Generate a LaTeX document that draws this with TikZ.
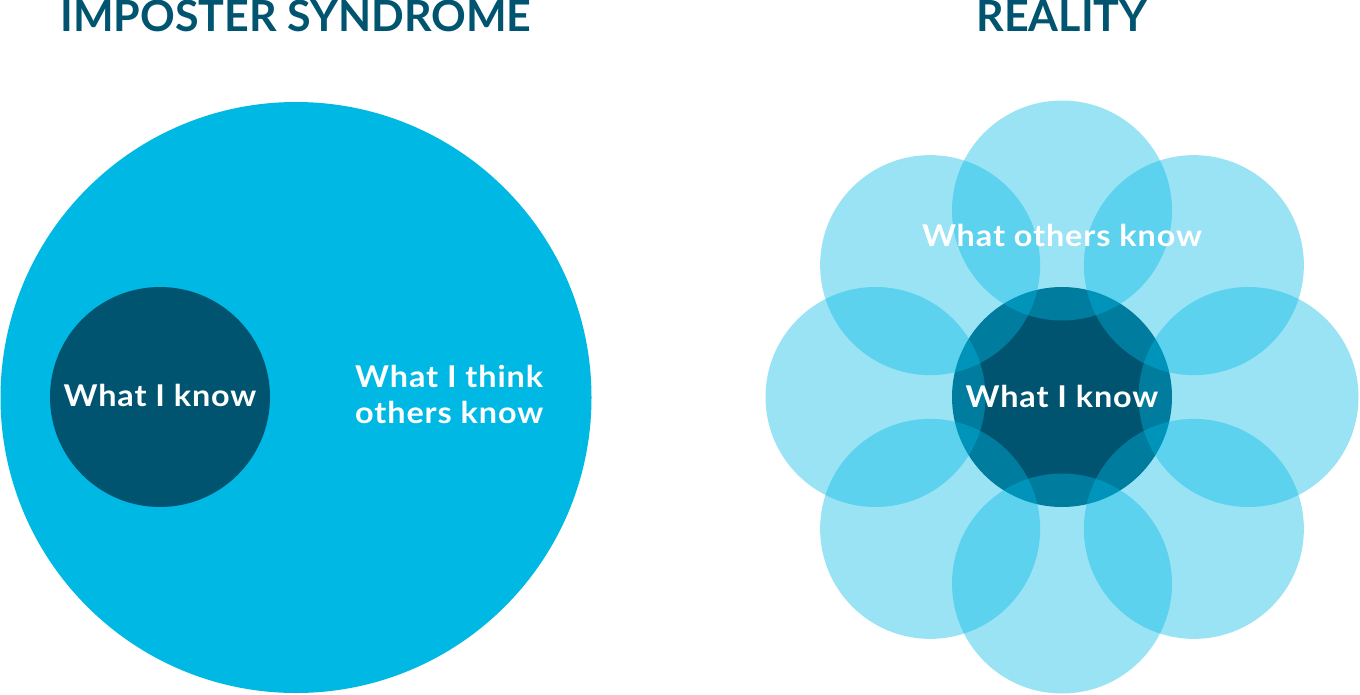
\documentclass[tikz,border=0pt]{standalone}
\usepackage{fontspec}
\setmainfont{Lato}[UprightFont=* Bold]
\newfontfamily\labelfont{Lato}[UprightFont=* Bold,FakeStretch=1.08,LetterSpace=3]
\definecolor{bigblue}{HTML}{00B8E4}
\definecolor{darkteal}{HTML}{005470}
\begin{document}
\begin{tikzpicture}[x=1pt,y=-1pt,
  bigcirc/.style={circle,fill=bigblue,inner sep=0pt,minimum size=591pt},
  darkcirc/.style={circle,fill=darkteal,inner sep=0pt,minimum size=220pt},
  petal/.style={circle,fill=bigblue,fill opacity=0.4,inner sep=0pt,minimum size=220pt},
  title/.style={text=darkteal,font=\fontsize{43}{48}\selectfont,anchor=base,inner sep=0pt},
  label/.style={text=white,font=\labelfont\fontsize{30}{36}\selectfont,anchor=base,inner sep=0pt}]
\useasboundingbox (0,0) rectangle (1360,695);
% left
\node[bigcirc] (big) at (296,397.5) {};
\node[darkcirc] (mine) at (160,397) {};
\node[title] (t1) at (296,32) {IMPOSTER SYNDROME};
\node[label] (l1) at (160,406) {What I know};
\node[label,align=left,anchor=base west] (l2) at (355,423) {What I think\\others know};
% right
\node[darkcirc] (center) at (1062,397) {};
\foreach \a [count=\i] in {90,45,0,-45,-90,-135,180,135}{
  \node[petal] (p\i) at ([shift={(\a:186.5)}]1062,397) {};
}
\node[title] (t2) at (1062,32) {REALITY};
\node[label] (l3) at (1062,247) {What others know};
\node[label] (l4) at (1062,407) {What I know};
\end{tikzpicture}
\end{document}
